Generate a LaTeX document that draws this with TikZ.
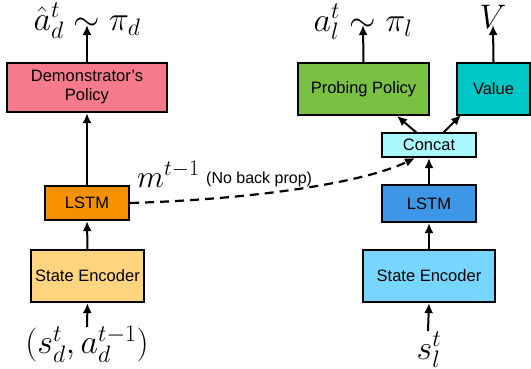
\RequirePackage{fix-cm}
\documentclass[tikz,border=0pt]{standalone}
\usepackage{fontspec}
\setsansfont{Liberation Sans}
\usetikzlibrary{arrows.meta}
\definecolor{cpink}{HTML}{F47A8C}
\definecolor{corange}{HTML}{F59100}
\definecolor{clorange}{HTML}{FFD47F}
\definecolor{cblue}{HTML}{3E97E6}
\definecolor{clblue}{HTML}{77D6FF}
\definecolor{ccyan}{HTML}{A9F9FF}
\definecolor{cgreen}{HTML}{7AC143}
\definecolor{cteal}{HTML}{00C6C6}
\tikzset{
  box/.style={draw=black, line width=2.2pt, inner sep=0pt, align=center,
    font=\sffamily\fontsize{16.5}{19}\selectfont},
  arr/.style={line width=2pt, -{Latex[length=10pt,width=9pt]}},
  dasharr/.style={line width=2.2pt, dash pattern=on 9pt off 6pt, -{Latex[length=10pt,width=9pt]}},
  mlabel/.style={inner sep=0pt, font=\fontsize{34}{40}\selectfont},
}
\begin{document}
\begin{tikzpicture}[x=1pt,y=-1pt]
\useasboundingbox (0,0) rectangle (531,368);
% left column
\node[box, fill=cpink, minimum width=160pt, minimum height=49pt] (dp) at (87,87.5) {Demonstrator's\\Policy};
\node[box, fill=corange, minimum width=84pt, minimum height=34pt] (lstmL) at (87,203) {LSTM};
\node[box, fill=clorange, minimum width=113pt, minimum height=52pt] (seL) at (87.5,276) {State Encoder};
\node[mlabel] (inL) at (87,344) {$(s_d^t,a_d^{t-1})$};
\node[mlabel] (outL) at (87,21) {$\hat{a}_d^t\sim\pi_d$};
\coordinate (outLtip) at (87,25);
\coordinate (inLstart) at (87,327);
% right column
\node[box, fill=cblue, minimum width=94pt, minimum height=37pt] (lstmR) at (429,203.5) {LSTM};
\node[box, fill=clblue, minimum width=132pt, minimum height=52pt] (seR) at (429,276) {State Encoder};
\node[box, fill=ccyan, minimum width=94pt, minimum height=24pt] (cc) at (429,145) {Concat};
\node[box, fill=cgreen, minimum width=131pt, minimum height=52pt] (pp) at (363.5,89) {Probing Policy};
\node[box, fill=cteal, minimum width=73pt, minimum height=52pt] (val) at (493.5,89) {Value};
\node[mlabel] (inR) at (429,350) {$s_l^t$};
\node[mlabel] (outR) at (363,22) {$a_l^t\sim\pi_l$};
\node[mlabel] (outV) at (493,17) {$V$};
\coordinate (inRstart) at (428,331);
\coordinate (outRtip) at (363,25);
\coordinate (outVtip) at (493,25);
\coordinate (ccA) at (417,133);
\coordinate (ppA) at (397,116);
\coordinate (ccB) at (443,133);
\coordinate (valB) at (461,115);
\coordinate (ccIn) at (415,158);
% arrows
\draw[arr] (dp.north) -- (outLtip);
\draw[arr] (lstmL.north) -- (dp.south);
\draw[arr] (seL.north) -- (lstmL.south);
\draw[arr] (inLstart) -- (seL.south);
\draw[arr] (inRstart) -- (seR.south);
\draw[arr] (seR.north) -- (lstmR.south);
\draw[arr] (lstmR.north) -- (cc.south);
\draw[arr] (ccA) -- (ppA);
\draw[arr] (ccB) -- (valB);
\draw[arr] (pp.north) -- (outRtip);
\draw[arr] (val.north) -- (outVtip);
\draw[dasharr] (lstmL.east) .. controls (260,199) and (365,182) .. (ccIn);
% message label
\node[mlabel, anchor=base west, font=\fontsize{31.5}{38}\selectfont] (msg) at (137,187) {$m^{t-1}$};
\node[inner sep=0pt, anchor=base west, font=\sffamily\fontsize{16}{19}\selectfont] (nbp) at (206,183) {(No back prop)};
\end{tikzpicture}
\end{document}
